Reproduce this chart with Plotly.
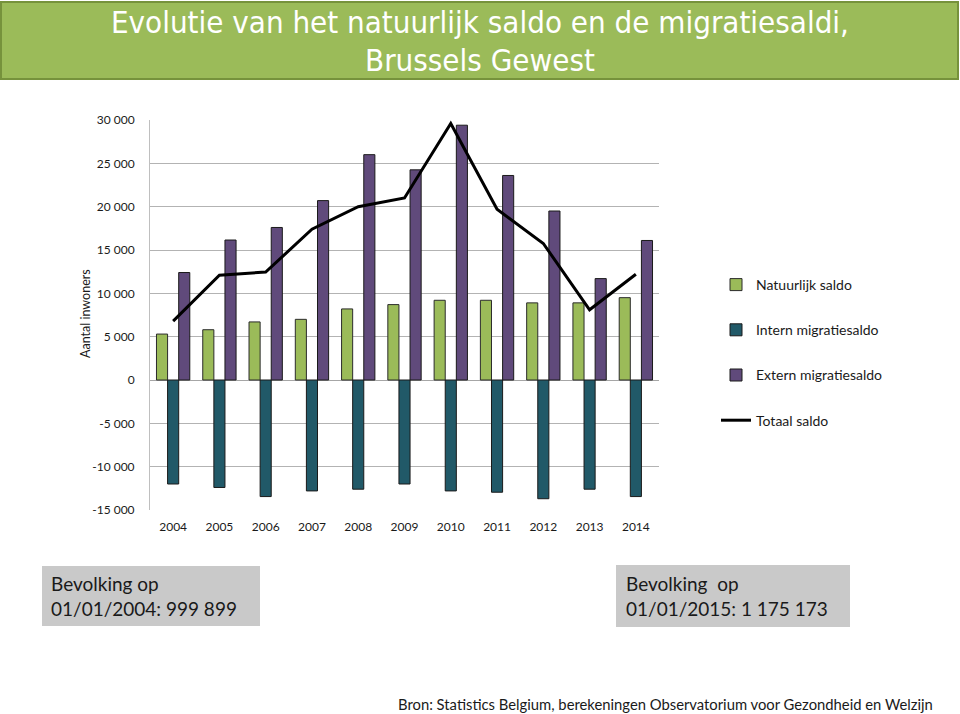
import plotly.graph_objects as go

years = ["2004", "2005", "2006", "2007", "2008", "2009", "2010", "2011", "2012", "2013", "2014"]
natuurlijk = [5300, 5800, 6700, 7000, 8200, 8700, 9200, 9200, 8900, 8900, 9500]
intern = [-12000, -12400, -13450, -12800, -12600, -12000, -12800, -12950, -13700, -12600, -13450]
extern = [12400, 16150, 17600, 20700, 26000, 24250, 29400, 23600, 19500, 11700, 16100]
totaal = [6800, 12100, 12450, 17400, 20000, 21000, 29600, 19700, 15750, 8100, 12200]

ytick_vals = [30000, 25000, 20000, 15000, 10000, 5000, 0, -5000, -10000, -15000]
ytick_text = ["30 000", "25 000", "20 000", "15 000", "10 000", "5 000", "0", "-5 000", "-10 000", "-15 000"]

FONT = "Lato, 'Open Sans', sans-serif"
TXT = "#1a1a1a"

fig = go.Figure()
fig.add_trace(go.Bar(x=years, y=natuurlijk, name="Natuurlijk saldo", legendgroup="a",
                     marker=dict(color="#9BBB59", line=dict(color="#2b2b2b", width=1))))
fig.add_trace(go.Bar(x=years, y=intern, name="Intern migratiesaldo", legendgroup="b",
                     marker=dict(color="#215968", line=dict(color="#1a1a1a", width=1))))
fig.add_trace(go.Bar(x=years, y=extern, name="Extern migratiesaldo", legendgroup="c",
                     marker=dict(color="#604A7B", line=dict(color="#1a1a1a", width=1))))
fig.add_trace(go.Scatter(x=years, y=totaal, name="Totaal saldo", legendgroup="d", mode="lines",
                         line=dict(color="black", width=3)))

L, R, T, B = 150, 659, 120, 510
W, H = 960, 714

def px(x):
    return (x - L) / (R - L)

def py(y):
    return (B - y) / (B - T)

shapes = [
    dict(type="rect", xref="paper", yref="paper", x0=px(1), x1=px(958), y0=py(79), y1=py(2),
         fillcolor="#9BBB59", line=dict(color="#76923C", width=2), layer="below"),
    dict(type="rect", xref="paper", yref="paper", x0=px(42), x1=px(260), y0=py(626), y1=py(566),
         fillcolor="#C9C9C9", line=dict(width=0), layer="below"),
    dict(type="rect", xref="paper", yref="paper", x0=px(616), x1=px(850), y0=py(627), y1=py(565),
         fillcolor="#C9C9C9", line=dict(width=0), layer="below"),
]

TITLE_FONT = "'Liberation Sans Narrow', 'DejaVu Sans Condensed', sans-serif"
annotations = [
    dict(text="Evolutie van het natuurlijk saldo en de migratiesaldi,", xref="paper", yref="paper",
         x=px(480), y=py(22), xanchor="center", yanchor="middle", showarrow=False,
         font=dict(family=TITLE_FONT, size=31, color="white")),
    dict(text="Brussels Gewest", xref="paper", yref="paper",
         x=px(480), y=py(60), xanchor="center", yanchor="middle", showarrow=False,
         font=dict(family=TITLE_FONT, size=31, color="white")),
    dict(text="Aantal inwoners", xref="paper", yref="paper", x=px(85), y=py(314),
         xanchor="center", yanchor="middle", textangle=-90, showarrow=False,
         font=dict(family=FONT, size=12.5, color=TXT)),
    dict(text="Bevolking op<br>01/01/2004: 999 899", xref="paper", yref="paper", x=px(49), y=py(596),
         xanchor="left", yanchor="middle", align="left", showarrow=False,
         font=dict(family=FONT, size=19, color=TXT)),
    dict(text="Bevolking  op<br>01/01/2015: 1 175 173", xref="paper", yref="paper", x=px(624), y=py(596),
         xanchor="left", yanchor="middle", align="left", showarrow=False,
         font=dict(family=FONT, size=19, color=TXT)),
    dict(text="Bron: Statistics Belgium, berekeningen Observatorium voor Gezondheid en Welzijn",
         xref="paper", yref="paper", x=px(935), y=py(704), xanchor="right", yanchor="middle",
         showarrow=False, font=dict(family=FONT, size=14.8, color=TXT)),
]

fig.update_layout(
    width=W, height=H,
    margin=dict(l=L, r=W - R, t=T, b=H - B, pad=0),
    paper_bgcolor="white", plot_bgcolor="white",
    barmode="group", bargap=0.28, bargroupgap=0,
    font=dict(family=FONT, size=12, color=TXT),
    showlegend=True,
    legend=dict(xref="container", yref="container", x=716 / W, y=1 - 269 / H,
                xanchor="left", yanchor="top", traceorder="grouped", tracegroupgap=24,
                font=dict(family=FONT, size=14, color=TXT), bgcolor="rgba(0,0,0,0)"),
    xaxis=dict(showgrid=False, showline=False, ticks="", tickfont=dict(size=12, color=TXT),
               ticklabelstandoff=8, zeroline=False),
    yaxis=dict(range=[-15000, 30000], tickvals=ytick_vals, ticktext=ytick_text,
               showgrid=True, gridcolor="#B3B3B3", gridwidth=1,
               zeroline=True, zerolinecolor="#A6A6A6", zerolinewidth=1,
               showline=True, linecolor="#BFBFBF", linewidth=1,
               ticks="", ticklabelstandoff=12, tickfont=dict(size=12, color=TXT)),
    shapes=shapes, annotations=annotations,
)

fig.write_html("out.html", config={"displayModeBar": False},
               post_script="document.body.style.margin='0';document.body.style.overflow='hidden';")
